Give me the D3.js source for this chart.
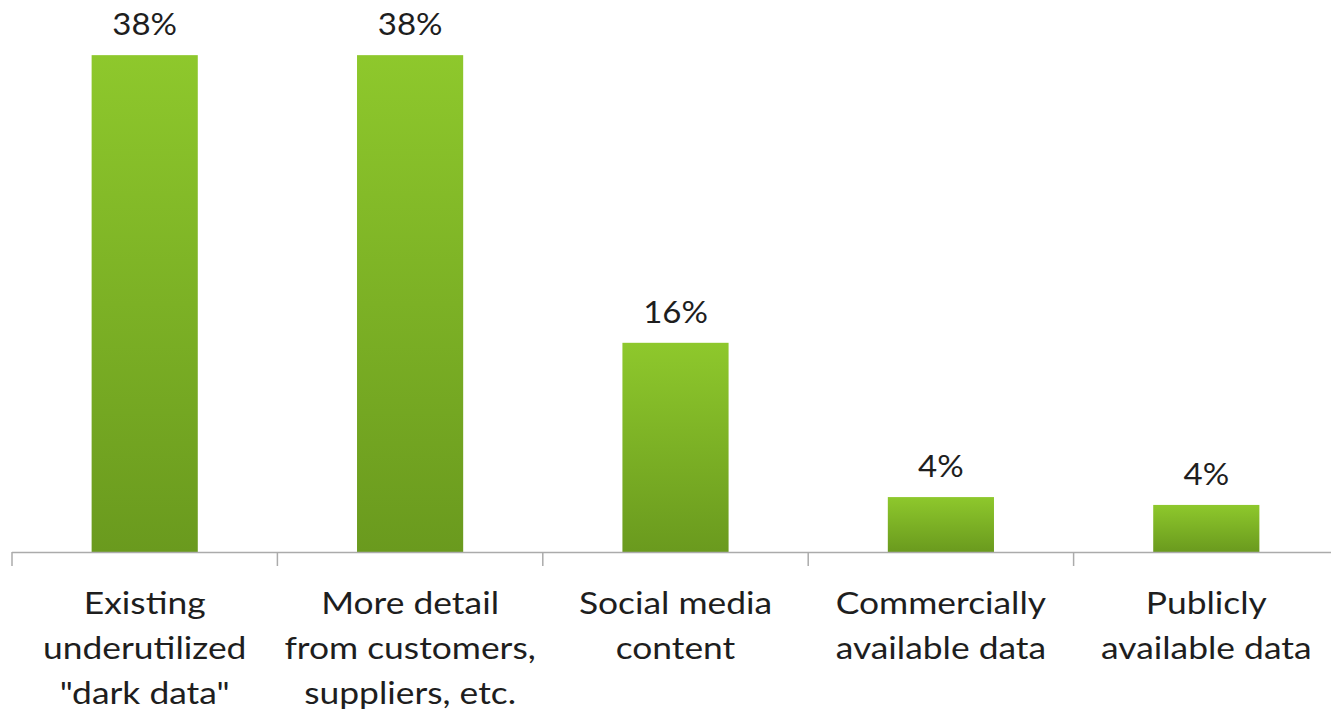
<!DOCTYPE html>
<html>
<head>
<meta charset="utf-8">
<script src="https://cdn.jsdelivr.net/npm/d3@7"></script>
<style>
  html, body { margin: 0; padding: 0; background: #ffffff; }
  svg { display: block; }
  text { font-family: Lato, "Open Sans", sans-serif; fill: #1e1e1e; }
</style>
</head>
<body>
<svg id="chart" width="1331" height="714"></svg>
<script>
// Where the extra data comes from (share of respondents)
const categories = [
  "Existing\nunderutilized\n\"dark data\"",
  "More detail\nfrom customers,\nsuppliers, etc.",
  "Social media\ncontent",
  "Commercially\navailable data",
  "Publicly\navailable data"
];
const values = [38, 38, 16, 4.2, 3.6];
const yDomain = [0, 40];

const svg = d3.select("#chart");
const W = 1331;
const plotLeft = 12, plotRight = 1339, plotBase = 552, plotTop = 29;

const x = d3.scaleBand()
  .domain(categories)
  .range([plotLeft, plotRight])
  .paddingInner(0.6)
  .paddingOuter(0.3);

const y = d3.scaleLinear().domain(yDomain).range([plotBase, plotTop]);
const cx = c => x(c) + x.bandwidth() / 2;

// vertical green gradient for the bars
const defs = svg.append("defs");
const grad = defs.append("linearGradient")
  .attr("id", "barGrad")
  .attr("x1", 0).attr("y1", 0).attr("x2", 0).attr("y2", 1);
grad.append("stop").attr("offset", "0%").attr("stop-color", "#8ec82c");
grad.append("stop").attr("offset", "100%").attr("stop-color", "#6a9a1e");

// bars
svg.append("g").selectAll("rect")
  .data(values)
  .join("rect")
  .attr("x", (d, i) => x(categories[i]))
  .attr("y", d => y(d))
  .attr("width", x.bandwidth())
  .attr("height", d => plotBase - y(d))
  .attr("fill", "url(#barGrad)");

// value labels (slightly wide lettering)
const fmt = d3.format(".0f");
svg.append("g").selectAll("text")
  .data(values)
  .join("text")
  .attr("transform", (d, i) => `translate(${cx(categories[i])},${y(d) - 20}) scale(1.1,1)`)
  .attr("text-anchor", "middle")
  .attr("font-size", 30)
  .text(d => fmt(d) + "%");

// category axis: baseline and boundary ticks
const axis = svg.append("g").attr("stroke", "#ababab").attr("stroke-width", 1.5);
axis.append("line")
  .attr("x1", plotLeft).attr("x2", W)
  .attr("y1", plotBase + 0.5).attr("y2", plotBase + 0.5);
const step = x.step();
const boundaries = categories.map(c => x(c) - step * x.paddingOuter()).concat([plotRight]);
axis.selectAll("line.tick")
  .data(boundaries)
  .join("line")
  .attr("class", "tick")
  .attr("x1", d => d).attr("x2", d => d)
  .attr("y1", plotBase).attr("y2", plotBase + 14);

// category labels, one tspan per line
const lab = svg.append("g").selectAll("text")
  .data(categories)
  .join("text")
  .attr("transform", c => `translate(${cx(c)},614) scale(1.18,1)`)
  .attr("text-anchor", "middle")
  .attr("font-size", 30);
lab.selectAll("tspan")
  .data(c => c.split("\n"))
  .join("tspan")
  .attr("x", 0)
  .attr("dy", (d, i) => i === 0 ? 0 : 45)
  .text(d => d);
</script>
</body>
</html>
